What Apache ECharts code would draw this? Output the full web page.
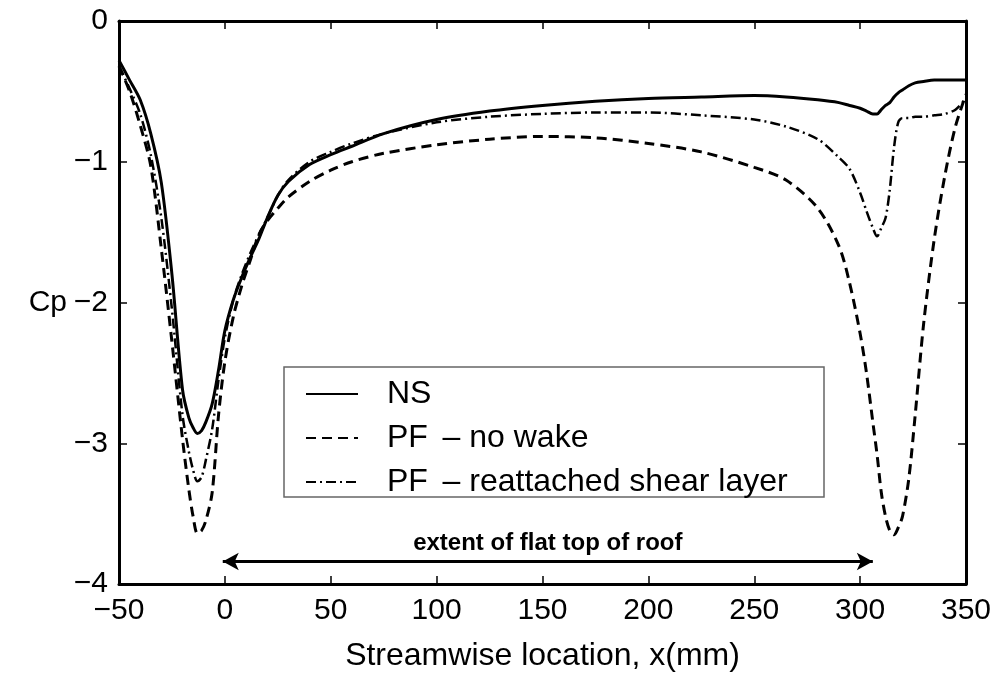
<!DOCTYPE html>
<html>
<head>
<meta charset="utf-8">
<script src="https://cdn.jsdelivr.net/npm/echarts@6/dist/echarts.min.js"></script>
<style>
html,body{margin:0;padding:0;background:#fff;}
#chart{width:997px;height:679px;}
</style>
</head>
<body>
<div id="chart"></div>
<script>
// Streamwise location x (mm)
const xs = [-50,-45,-40,-35,-30,-25,-20,-17,-15,-13,-11,-9,-6,-3,0,4,8,12,16,20,25,30,40,50,60,75,100,125,150,175,200,225,250,265,280,290,295,300,303,306,308,310,312,314,316,318,320,323,326,330,335,340,345,350];
// NS
const nsCp = [-0.28,-0.42,-0.56,-0.80,-1.15,-1.80,-2.62,-2.82,-2.89,-2.93,-2.91,-2.85,-2.72,-2.48,-2.20,-1.98,-1.82,-1.68,-1.55,-1.40,-1.24,-1.14,-1.02,-0.95,-0.89,-0.80,-0.70,-0.64,-0.60,-0.57,-0.55,-0.54,-0.53,-0.54,-0.56,-0.58,-0.60,-0.62,-0.64,-0.66,-0.66,-0.63,-0.60,-0.58,-0.54,-0.51,-0.49,-0.46,-0.44,-0.43,-0.42,-0.42,-0.42,-0.42];
// PF - no wake
const pfNoWakeCp = [-0.32,-0.50,-0.74,-1.03,-1.62,-2.28,-2.97,-3.33,-3.52,-3.64,-3.62,-3.55,-3.35,-2.80,-2.42,-2.10,-1.88,-1.70,-1.52,-1.42,-1.33,-1.25,-1.14,-1.06,-1.00,-0.94,-0.88,-0.84,-0.82,-0.83,-0.87,-0.93,-1.04,-1.13,-1.33,-1.60,-1.86,-2.22,-2.50,-2.85,-3.08,-3.35,-3.52,-3.62,-3.65,-3.60,-3.52,-3.25,-2.80,-2.15,-1.55,-1.10,-0.75,-0.52];
// PF - reattached shear layer
const pfReattCp = [-0.32,-0.48,-0.66,-0.95,-1.40,-2.05,-2.80,-3.06,-3.19,-3.27,-3.24,-3.12,-2.90,-2.55,-2.25,-1.98,-1.80,-1.65,-1.52,-1.40,-1.24,-1.13,-1.00,-0.93,-0.87,-0.80,-0.72,-0.68,-0.66,-0.65,-0.65,-0.67,-0.70,-0.75,-0.84,-0.97,-1.05,-1.22,-1.35,-1.47,-1.53,-1.47,-1.40,-1.20,-0.90,-0.72,-0.69,-0.69,-0.68,-0.68,-0.67,-0.66,-0.63,-0.55];
const seriesNames = ['NS','PF – no wake','PF – reattached shear layer'];
// roof extent annotation
const roofStart = -1, roofEnd = 306, roofCp = -3.84;
const roofLabel = 'extent of flat top of roof';
const xTitle = 'Streamwise location, x(mm)';
const yTitle = 'Cp';

const FONT = 'Liberation Sans, Arial, Helvetica, sans-serif';
const fmt = v => String(v).replace('-', '\u2212');
const toPts = arr => xs.map((x, i) => [x, arr[i]]);

const chart = echarts.init(document.getElementById('chart'), null, {renderer: 'canvas'});
const axisLine = {show: true, onZero: false, lineStyle: {color: '#000', width: 3}};
const axisTick = {show: true, inside: true, length: 8, lineStyle: {color: '#000', width: 1.5}};

chart.setOption({
  animation: false,
  backgroundColor: '#fff',
  grid: {left: 119, right: 31, top: 21, bottom: 95, containLabel: false},
  legend: {
    orient: 'vertical', left: 300, top: 373,
    data: seriesNames,
    itemWidth: 52, itemHeight: 14, itemGap: 12,
    itemStyle: {color: 'rgba(0,0,0,0)', borderWidth: 0, opacity: 0},
    textStyle: {
      color: '#000', fontFamily: FONT, padding: [0, 0, 0, 24],
      rich: {
        a: {fontSize: 32, fontFamily: FONT, color: '#000', lineHeight: 31},
        b: {fontSize: 32, fontFamily: FONT, color: '#000', lineHeight: 31, padding: [0, 0, 0, 8]}
      }
    },
    formatter: name => {
      const i = name.indexOf(' ');
      if (i < 0) return '{a|' + name + '}';
      return '{a|' + name.slice(0, i) + '}  {b|' + name.slice(i + 1) + '}';
    }
  },
  graphic: [{
    type: 'rect', shape: {x: 284, y: 367, width: 540, height: 130},
    style: {fill: 'none', stroke: '#666', lineWidth: 1.5}, z: 1
  }],
  xAxis: [{
    type: 'value', min: -50, max: 350, interval: 50, position: 'bottom',
    axisLine, axisTick, splitLine: {show: false},
    axisLabel: {color: '#000', fontSize: 30, fontFamily: FONT, margin: 12, formatter: fmt},
    name: xTitle, nameLocation: 'middle', nameGap: 56,
    nameTextStyle: {color: '#000', fontSize: 32, fontFamily: FONT}
  }, {
    type: 'value', min: -50, max: 350, interval: 50, position: 'top',
    axisLine, axisTick, splitLine: {show: false}, axisLabel: {show: false}
  }],
  yAxis: [{
    type: 'value', min: -4, max: 0, interval: 1, position: 'left',
    axisLine, axisTick, splitLine: {show: false},
    axisLabel: {color: '#000', fontSize: 30, fontFamily: FONT, margin: 11, formatter: fmt},
    name: yTitle, nameLocation: 'middle', nameGap: 52, nameRotate: 0,
    nameTextStyle: {color: '#000', fontSize: 30, fontFamily: FONT}
  }, {
    type: 'value', min: -4, max: 0, interval: 1, position: 'right',
    axisLine, axisTick, splitLine: {show: false}, axisLabel: {show: false}
  }],
  series: [{
    name: seriesNames[0], type: 'line', data: toPts(nsCp), symbol: 'none', smooth: 0.3,
    lineStyle: {color: '#000', width: 3, type: 'solid'}, itemStyle: {color: '#000'}, z: 5,
    markLine: {
      silent: true, symbol: ['arrow', 'arrow'], symbolSize: [13, 16],
      lineStyle: {color: '#000', width: 3, type: 'solid'},
      label: {show: true, position: 'insideMiddleTop', distance: 6, formatter: roofLabel,
        color: '#000', fontSize: 24, fontWeight: 'bold', fontFamily: FONT},
      data: [[{coord: [roofStart, roofCp]}, {coord: [roofEnd, roofCp]}]]
    }
  }, {
    name: seriesNames[1], type: 'line', data: toPts(pfNoWakeCp), symbol: 'none', smooth: 0.3,
    lineStyle: {color: '#000', width: 3, type: [10, 6]}, itemStyle: {color: '#000'}, z: 4
  }, {
    name: seriesNames[2], type: 'line', data: toPts(pfReattCp), symbol: 'none', smooth: 0.3,
    lineStyle: {color: '#000', width: 2.5, type: [10, 4, 2, 4]}, itemStyle: {color: '#000'}, z: 3
  }]
});
</script>
</body>
</html>
